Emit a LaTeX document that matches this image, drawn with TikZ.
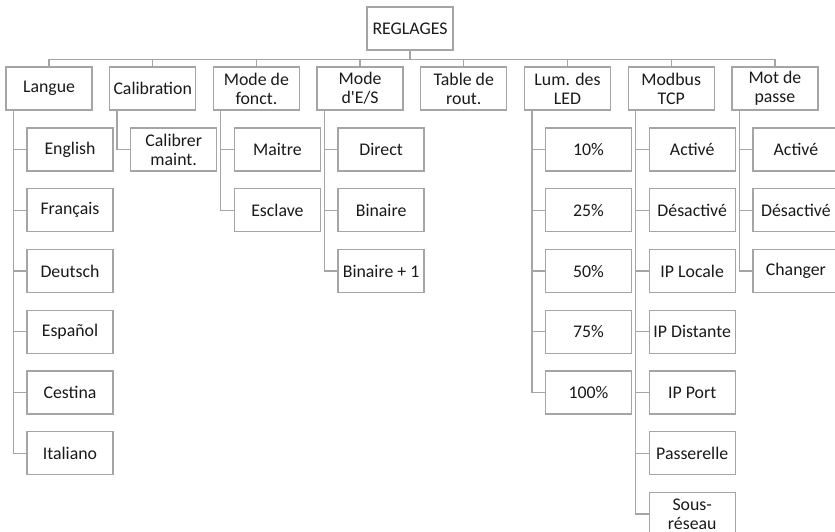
\documentclass[tikz,border=0pt]{standalone}
\usepackage{fontspec}
\setmainfont{Carlito}
\definecolor{ln}{HTML}{A5A5A5}
\definecolor{tx}{HTML}{1A1A1A}
\begin{document}
\begin{tikzpicture}[x=1pt,y=-1pt,
 box/.style={draw=ln,line width=1.3pt,fill=white,minimum width=86pt,minimum height=43pt,inner sep=0pt,align=center,text=tx,font=\fontsize{17.8}{19}\selectfont},
 con/.style={draw=ln,line width=1.3pt}]
\useasboundingbox (0,0) rectangle (835,531);
\clip (0,0) rectangle (835,531);
% root
\node[box] (R) at (410,28.5) {REGLAGES};
% level 1
\node[box] (p1) at (49,88.5) {Langue};
\node[box] (p2) at (152.7,88.5) {Calibration};
\node[box] (p3) at (256.4,88.5) {Mode de\\fonct.};
\node[box] (p4) at (360.1,88.5) {Mode\\d\textquotesingle E/S};
\node[box] (p5) at (463.8,88.5) {Table de\\rout.};
\node[box] (p6) at (567.5,88.5) {Lum. des\\LED};
\node[box] (p7) at (671.2,88.5) {Modbus\\TCP};
\node[box] (p8) at (774.9,88.5) {Mot de\\passe};
% level 2 : Langue
\node[box] (a1) at (70,149.5) {English};
\node[box] (a2) at (70,210.25) {Français};
\node[box] (a3) at (70,271) {Deutsch};
\node[box] (a4) at (70,331.75) {Español};
\node[box] (a5) at (70,392.5) {Cestina};
\node[box] (a6) at (70,453.25) {Italiano};
% Calibration
\node[box] (b1) at (173.7,149.5) {Calibrer\\maint.};
% Mode de fonct.
\node[box] (c1) at (277.4,149.5) {Maitre};
\node[box] (c2) at (277.4,210.25) {Esclave};
% Mode d'E/S
\node[box] (d1) at (381.1,149.5) {Direct};
\node[box] (d2) at (381.1,210.25) {Binaire};
\node[box] (d3) at (381.1,271) {Binaire + 1};
% Lum. des LED
\node[box] (e1) at (588.5,149.5) {10\%};
\node[box] (e2) at (588.5,210.25) {25\%};
\node[box] (e3) at (588.5,271) {50\%};
\node[box] (e4) at (588.5,331.75) {75\%};
\node[box] (e5) at (588.5,392.5) {100\%};
% Modbus TCP
\node[box] (f1) at (692.2,149.5) {Activé};
\node[box] (f2) at (692.2,210.25) {Désactivé};
\node[box] (f3) at (692.2,271) {IP Locale};
\node[box] (f4) at (692.2,331.75) {IP Distante};
\node[box] (f5) at (692.2,392.5) {IP Port};
\node[box] (f6) at (692.2,453.25) {Passerelle};
\node[box] (f7) at (692.2,514) {Sous-\\réseau};
% Mot de passe
\node[box] (g1) at (795.9,149.5) {Activé};
\node[box] (g2) at (795.9,210.25) {Désactivé};
\node[box] (g3) at (795.9,271) {Changer};
% bus
\draw[con] (R.south) -- ++(0,8.5) coordinate (bus);
\draw[con] (p1.north) |- (bus) -| (p8.north);
\foreach \p in {p2,p3,p4,p5,p6,p7}
  \draw[con] (\p.north) -- (\p.north |- bus);
% children connectors
\foreach \c in {a1,a2,a3,a4,a5,a6}
  \draw[con] ([xshift=8pt]p1.south west) |- (\c.west);
\draw[con] ([xshift=8pt]p2.south west) |- (b1.west);
\foreach \c in {c1,c2}
  \draw[con] ([xshift=8pt]p3.south west) |- (\c.west);
\foreach \c in {d1,d2,d3}
  \draw[con] ([xshift=8pt]p4.south west) |- (\c.west);
\foreach \c in {e1,e2,e3,e4,e5}
  \draw[con] ([xshift=8pt]p6.south west) |- (\c.west);
\foreach \c in {f1,f2,f3,f4,f5,f6,f7}
  \draw[con] ([xshift=8pt]p7.south west) |- (\c.west);
\foreach \c in {g1,g2,g3}
  \draw[con] ([xshift=8pt]p8.south west) |- (\c.west);
\end{tikzpicture}
\end{document}
